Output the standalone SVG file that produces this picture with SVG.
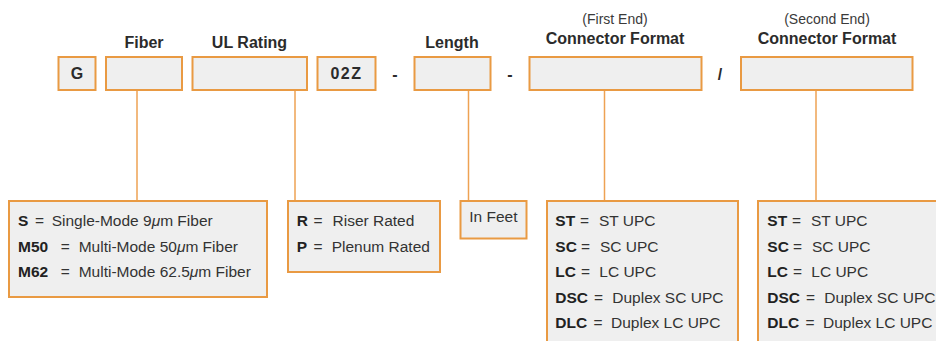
<svg xmlns="http://www.w3.org/2000/svg" width="936" height="341" viewBox="0 0 936 341">
<style>
.box{fill:#efefef;stroke:#e99a43;stroke-width:2}
.ln{stroke:#eea253;stroke-width:1.5;fill:none}
.t{font-family:"Liberation Sans",Arial,sans-serif;fill:#2b2b2b}
.lbl{font-size:16px;font-weight:bold;text-anchor:middle}
.sub{font-size:14px;text-anchor:middle;fill:#3a3a3a}
.code{font-size:16px;font-weight:bold;text-anchor:middle}
.d{font-size:15.5px;fill:#333}
.k{font-weight:bold;fill:#222;font-size:15.5px}
.mu{font-style:italic}
</style>
<rect width="936" height="341" fill="#fff"/>
<g id="connectors">
<line class="ln" x1="137" y1="91" x2="137" y2="201"/>
<line class="ln" x1="295" y1="91" x2="295" y2="201"/>
<line class="ln" x1="468.5" y1="91" x2="468.5" y2="201"/>
<line class="ln" x1="604.5" y1="91" x2="604.5" y2="201"/>
<line class="ln" x1="816" y1="91" x2="816" y2="201"/>
</g>
<g id="labels">
<text class="t lbl" x="144" y="48">Fiber</text>
<text class="t lbl" x="249.5" y="48">UL Rating</text>
<text class="t lbl" x="452" y="48">Length</text>
<text class="t sub" x="615" y="24">(First End)</text>
<text class="t lbl" x="615" y="44">Connector Format</text>
<text class="t sub" x="827" y="24">(Second End)</text>
<text class="t lbl" x="827" y="44">Connector Format</text>
<text class="t code" x="395" y="80">-</text>
<text class="t code" x="510" y="80">-</text>
<text class="t code" x="720" y="80">/</text>
</g>
<g id="node-g">
<rect class="box" x="58.5" y="57" width="37" height="33"/>
<text class="t code" x="77" y="79">G</text>
</g>
<g id="node-fiber"><rect class="box" x="106" y="57" width="76" height="33"/></g>
<g id="node-ul"><rect class="box" x="192.5" y="57" width="114.5" height="33"/></g>
<g id="node-02z">
<rect class="box" x="317.5" y="57" width="58" height="33"/>
<text class="t code" x="346.5" y="79" letter-spacing="1.5">02Z</text>
</g>
<g id="node-length"><rect class="box" x="414.5" y="57" width="76" height="33"/></g>
<g id="node-conn1"><rect class="box" x="529.5" y="57" width="172" height="33"/></g>
<g id="node-conn2"><rect class="box" x="741" y="57" width="171.5" height="33"/></g>
<g id="node-fiber-desc">
<rect class="box" x="9" y="201" width="258" height="96"/>
<text class="t d" y="226"><tspan class="k" x="18">S</tspan><tspan x="35">=</tspan><tspan x="51.7">Single-Mode 9<tspan class="mu">μ</tspan>m Fiber</tspan></text>
<text class="t d" y="252"><tspan class="k" x="18">M50</tspan><tspan x="60.7">=</tspan><tspan x="78.7">Multi-Mode 50<tspan class="mu">μ</tspan>m Fiber</tspan></text>
<text class="t d" y="277"><tspan class="k" x="18">M62</tspan><tspan x="60.7">=</tspan><tspan x="78.7">Multi-Mode 62.5<tspan class="mu">μ</tspan>m Fiber</tspan></text>
</g>
<g id="node-ul-desc">
<rect class="box" x="288" y="201" width="152" height="71"/>
<text class="t d" y="226"><tspan class="k" x="296.7">R</tspan><tspan x="313.5">=</tspan><tspan x="332.5">Riser Rated</tspan></text>
<text class="t d" y="252"><tspan class="k" x="296.7">P</tspan><tspan x="313.5">=</tspan><tspan x="331.7">Plenum Rated</tspan></text>
</g>
<g id="node-length-desc">
<rect class="box" x="460.5" y="201" width="66" height="37.5"/>
<text class="t d" x="469.3" y="222" font-size="15">In Feet</text>
</g>
<g id="node-conn1-desc">
<rect class="box" x="547" y="201" width="191" height="160"/>
<text class="t d" y="226"><tspan class="k" x="555.3">ST</tspan><tspan x="580">=</tspan><tspan x="599">ST UPC</tspan></text>
<text class="t d" y="251.5"><tspan class="k" x="555.3">SC</tspan><tspan x="581">=</tspan><tspan x="600">SC UPC</tspan></text>
<text class="t d" y="277"><tspan class="k" x="555.3">LC</tspan><tspan x="581">=</tspan><tspan x="599.3">LC UPC</tspan></text>
<text class="t d" y="302.5"><tspan class="k" x="555.3">DSC</tspan><tspan x="594">=</tspan><tspan x="612.3">Duplex SC UPC</tspan></text>
<text class="t d" y="327.5"><tspan class="k" x="555.3">DLC</tspan><tspan x="593.5">=</tspan><tspan x="611">Duplex LC UPC</tspan></text>
</g>
<g id="node-conn2-desc">
<rect class="box" x="758" y="201" width="200" height="160"/>
<text class="t d" y="226"><tspan class="k" x="767.3">ST</tspan><tspan x="792">=</tspan><tspan x="811">ST UPC</tspan></text>
<text class="t d" y="251.5"><tspan class="k" x="767.3">SC</tspan><tspan x="793">=</tspan><tspan x="812">SC UPC</tspan></text>
<text class="t d" y="277"><tspan class="k" x="767.3">LC</tspan><tspan x="793">=</tspan><tspan x="811.3">LC UPC</tspan></text>
<text class="t d" y="302.5"><tspan class="k" x="767.3">DSC</tspan><tspan x="806">=</tspan><tspan x="824.3">Duplex SC UPC</tspan></text>
<text class="t d" y="327.5"><tspan class="k" x="767.3">DLC</tspan><tspan x="805.5">=</tspan><tspan x="823">Duplex LC UPC</tspan></text>
</g>
</svg>
